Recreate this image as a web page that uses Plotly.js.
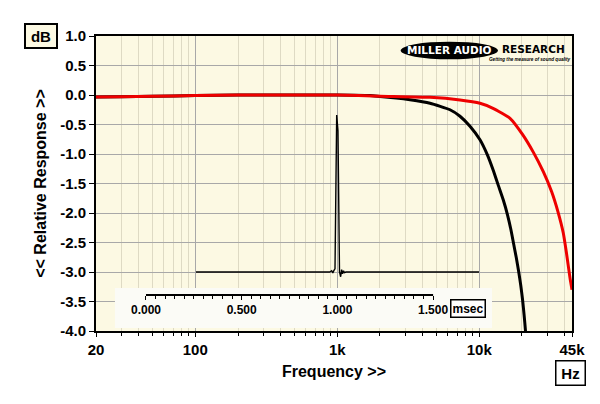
<!DOCTYPE html>
<html>
<head>
<meta charset="utf-8">
<script src="https://cdn.plot.ly/plotly-3.0.1.min.js"></script>
<style>
  html, body { margin: 0; padding: 0; background: #ffffff; }
  #chart { width: 600px; height: 404px; }
</style>
</head>
<body>
<div id="chart"></div>
<script>
// ---- data ----
const blackFreq = [20, 30, 50, 100, 200, 500, 1000, 1700, 2000, 2600, 3254, 4500, 6224, 7318, 8606, 10120, 11430, 12600, 13660, 14770, 15810, 16730, 17420, 18240, 18960, 19610, 20190, 20700, 21140, 21520];
const blackDb   = [-0.035, -0.03, -0.02, -0.01, 0, 0, 0, -0.01, -0.025, -0.05, -0.08, -0.14, -0.25, -0.36, -0.53, -0.76, -1.02, -1.29, -1.54, -1.78, -2.03, -2.288, -2.508, -2.76, -2.995, -3.23, -3.47, -3.73, -3.98, -4.25];

const redFreq = [20, 30, 50, 100, 200, 500, 1000, 2000, 4500, 7318, 10120, 12500, 16470, 20330, 23910, 28250, 32360, 35850, 39070, 41150, 43560, 45000];
const redDb   = [-0.035, -0.03, -0.02, -0.01, 0, 0, 0, -0.02, -0.04, -0.085, -0.14, -0.225, -0.395, -0.68, -0.96, -1.30, -1.64, -1.98, -2.34, -2.68, -3.10, -3.30];

// impulse response inset (time in msec, normalised amplitude)
const impTime = [0.261, 0.960, 0.970, 0.976, 0.982, 0.9875, 0.9963, 0.999, 1.003, 1.011, 1.017, 1.022, 1.027, 1.032, 1.037, 1.045, 1.740];
const impAmp  = [0, 0, 0.008, -0.006, 0.01, 0.02, 1.0, 0.93, 0.9, 0.0, -0.03, 0.015, -0.012, 0.008, -0.004, 0, 0];

const xTickVals   = [20, 100, 1000, 10000, 45000];
const xTickText   = ['20', '100', '1k', '10k', '45k'];
const xMinorVals  = [30, 40, 50, 60, 70, 80, 90, 200, 300, 400, 500, 600, 700, 800, 900,
                     2000, 3000, 4000, 5000, 6000, 7000, 8000, 9000, 20000, 30000, 40000];
const yTickVals   = [-4.0, -3.5, -3.0, -2.5, -2.0, -1.5, -1.0, -0.5, 0.0, 0.5, 1.0];
const yTickText   = ['-4.0', '-3.5', '-3.0', '-2.5', '-2.0', '-1.5', '-1.0', '-0.5', '0.0', '0.5', '1.0'];
const tTickVals   = [0, 0.5, 1.0, 1.5];
const tTickText   = ['0.000', '0.500', '1.000', '1.500'];
const tMinorVals  = [0.05, 0.10, 0.15, 0.20, 0.25, 0.30, 0.35, 0.40, 0.45,
                     0.55, 0.60, 0.65, 0.70, 0.75, 0.80, 0.85, 0.90, 0.95,
                     1.05, 1.10, 1.15, 1.20, 1.25, 1.30, 1.35, 1.40, 1.45];

// ---- styling ----
const FONT = 'Liberation Sans, Arial, sans-serif';
const CREAM = '#fcf9e3';
const T_AXIS_Y = 0.122;   // paper position of the msec scale

const traces = [
  { x: blackFreq, y: blackDb, type: 'scatter', mode: 'lines',
    line: { color: '#000000', width: 3, shape: 'spline', smoothing: 0.5 }, hoverinfo: 'skip' },
  { x: redFreq, y: redDb, type: 'scatter', mode: 'lines',
    line: { color: '#ee0000', width: 3, shape: 'spline', smoothing: 0.5 }, hoverinfo: 'skip' },
  { x: impTime, y: impAmp, type: 'scatter', mode: 'lines', xaxis: 'x2', yaxis: 'y2',
    line: { color: '#000000', width: 1.4 }, hoverinfo: 'skip' }
];

const layout = {
  width: 600, height: 404,
  margin: { l: 96, r: 28, t: 36, b: 73 },
  paper_bgcolor: '#ffffff',
  plot_bgcolor: CREAM,
  showlegend: false,
  font: { family: FONT, color: '#000000' },
  xaxis: {
    type: 'log',
    range: [Math.log10(20), Math.log10(45000)],
    tickvals: xTickVals, ticktext: xTickText,
    tickfont: { family: FONT, size: 15, weight: 'bold', color: '#000' },
    ticks: 'outside', ticklen: 4, tickcolor: '#000', tickwidth: 1,
    showgrid: true, gridcolor: '#a8a8a8', gridwidth: 1,
    minor: { tickvals: xMinorVals, ticks: 'outside', ticklen: 3, tickcolor: '#000',
             showgrid: true, gridcolor: '#dedac4', gridwidth: 1 },
    showline: true, linecolor: '#000', linewidth: 2, mirror: true,
    zeroline: false,
    title: { text: 'Frequency >>', font: { family: FONT, size: 16, weight: 'bold', color: '#000' }, standoff: 9 }
  },
  yaxis: {
    range: [-4, 1],
    tickvals: yTickVals, ticktext: yTickText,
    tickfont: { family: FONT, size: 15, weight: 'bold', color: '#000' },
    ticks: 'outside', ticklen: 5, tickcolor: '#000', tickwidth: 1,
    showgrid: true, gridcolor: '#a8a8a8', gridwidth: 1,
    showline: true, linecolor: '#000', linewidth: 2, mirror: true,
    zeroline: false,
    title: { text: '<< Relative Response >>', font: { family: FONT, size: 16, weight: 'bold', color: '#000' }, standoff: 10 }
  },
  // msec scale of the impulse inset (overlaid on the main plot)
  xaxis2: {
    overlaying: 'x', anchor: 'free', position: T_AXIS_Y, side: 'bottom',
    range: [-0.2612, 2.2257],
    tickvals: tTickVals, ticktext: tTickText,
    tickfont: { family: FONT, size: 12, weight: 'bold', color: '#000' },
    ticks: 'outside', ticklen: 4, tickcolor: '#000', tickwidth: 1,
    minor: { tickvals: tMinorVals, ticks: 'outside', ticklen: 3, tickcolor: '#000', tickwidth: 1, showgrid: false },
    showline: false, showgrid: false, zeroline: false, fixedrange: true
  },
  yaxis2: { overlaying: 'y', range: [-0.3758, 1.5032], visible: false, fixedrange: true },
  shapes: [
    // pale panel behind the msec scale
    { type: 'rect', xref: 'x', yref: 'y', x0: 27.2, x1: 12300, y0: -3.95, y1: -3.27,
      fillcolor: '#fbfbf6', line: { width: 0 }, layer: 'between' },
    // msec scale axis line
    { type: 'line', xref: 'x2', yref: 'paper', x0: 0, x1: 1.5, y0: T_AXIS_Y, y1: T_AXIS_Y,
      line: { color: '#000', width: 2 }, layer: 'above' },
    // logo ellipse
    { type: 'circle', xref: 'paper', yref: 'paper', x0: 0.640, x1: 0.8445, y0: 0.921, y1: 0.9807,
      fillcolor: '#000000', line: { width: 0 }, layer: 'above' }
  ],
  annotations: [
    { xref: 'paper', yref: 'paper', x: -0.1155, y: 1.0, text: 'dB', showarrow: false,
      font: { family: FONT, size: 15, weight: 'bold', color: '#000' },
      bgcolor: CREAM, bordercolor: '#000', borderwidth: 2, width: 28, height: 20,
      xanchor: 'center', yanchor: 'middle' },
    { xref: 'paper', yref: 'paper', x: 0.9958, y: -0.142, text: 'Hz', showarrow: false,
      font: { family: FONT, size: 15, weight: 'bold', color: '#000' },
      bgcolor: '#ffffff', bordercolor: '#000', borderwidth: 1.5, width: 26, height: 21,
      xanchor: 'center', yanchor: 'middle' },
    { xref: 'paper', yref: 'paper', x: 0.7815, y: 0.0763, text: 'msec', showarrow: false,
      font: { family: FONT, size: 12, weight: 'bold', color: '#000' },
      bgcolor: '#ffffff', bordercolor: '#000', borderwidth: 1.5, width: 31, height: 14,
      xanchor: 'center', yanchor: 'middle' },
    { xref: 'paper', yref: 'paper', x: 0.7416, y: 0.951, text: 'MILLER AUDIO', showarrow: false,
      font: { family: 'DejaVu Sans, sans-serif', size: 10.5, weight: 'bold', color: '#ffffff' },
      xanchor: 'center', yanchor: 'middle' },
    { xref: 'paper', yref: 'paper', x: 0.9195, y: 0.956, text: 'RESEARCH', showarrow: false,
      font: { family: 'DejaVu Sans, sans-serif', size: 10.5, weight: 'bold', color: '#000000' },
      xanchor: 'center', yanchor: 'middle' },
    { xref: 'paper', yref: 'paper', x: 0.912, y: 0.919, text: '<i>Getting the measure of sound quality</i>', showarrow: false,
      font: { family: FONT, size: 4.6, weight: 'bold', color: '#000000' },
      xanchor: 'center', yanchor: 'middle' }
  ]
};

Plotly.newPlot('chart', traces, layout, { displayModeBar: false, staticPlot: true });
</script>
</body>
</html>
